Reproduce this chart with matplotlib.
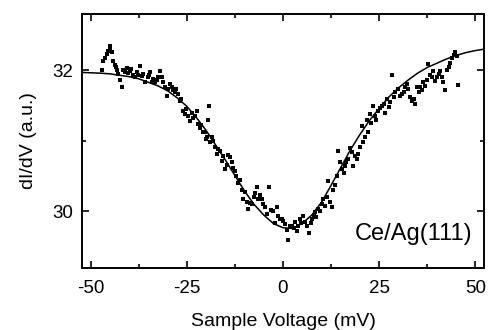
import matplotlib.pyplot as plt
import numpy as np

plt.rcParams['font.family'] = ['Liberation Sans', 'DejaVu Sans']
plt.rcParams['axes.unicode_minus'] = False

# measured dI/dV points (mV, a.u.)
volt = [-47.1, -46.9, -46.4, -45.8, -45.6, -45.1, -44.9, -44.5, -44.3, -43.8, -43.5, -43.2,
        -42.8, -42.4, -41.9, -41.7, -41.2, -40.6, -40.2, -39.8, -39.4, -39.0, -38.5, -38.0,
        -37.6, -37.2, -36.7, -36.3, -35.9, -35.2, -34.9, -34.6, -34.1, -33.7, -33.3, -32.8,
        -32.4, -32.0, -31.5, -31.3, -30.7, -30.2, -29.9, -29.4, -28.9, -28.5, -28.1, -27.7,
        -27.3, -26.8, -26.4, -26.0, -25.5, -25.1, -24.7, -24.2, -23.7, -23.3, -22.9, -22.4,
        -22.0, -21.6, -21.2, -20.8, -20.3, -20.0, -19.8, -19.5, -19.3, -18.9, -18.5, -18.1,
        -17.7, -17.2, -16.8, -16.4, -15.9, -15.5, -15.1, -14.6, -14.2, -13.8, -13.3, -12.9,
        -12.5, -12.1, -11.7, -11.2, -10.7, -10.4, -9.9, -9.4, -9.1, -8.6, -8.1, -7.6,
        -7.2, -6.8, -6.4, -6.0, -5.5, -5.1, -4.7, -4.2, -3.6, -3.2, -2.6, -2.1,
        -1.6, -1.3, -0.8, -0.3, 0.0, 0.5, 1.0, 1.3, 1.8, 2.3, 2.8, 3.2,
        3.6, 4.0, 4.4, 4.8, 5.2, 5.7, 6.2, 6.8, 7.2, 7.6, 8.0, 8.3,
        8.7, 9.1, 9.6, 10.2, 10.4, 10.9, 11.5, 11.7, 12.2, 12.8, 13.0, 13.5,
        14.0, 14.3, 14.8, 15.4, 15.8, 16.1, 16.5, 16.9, 17.4, 18.0, 18.2, 18.7,
        19.3, 19.5, 20.0, 20.6, 20.8, 21.3, 21.9, 22.1, 22.7, 23.0, 23.4, 23.8,
        24.2, 24.7, 25.3, 25.8, 26.2, 26.6, 27.1, 27.5, 27.9, 28.4, 28.8, 29.2,
        29.9, 30.4, 31.0, 31.4, 31.8, 32.2, 32.6, 33.1, 33.6, 34.0, 34.4, 34.9,
        35.3, 35.7, 36.1, 36.5, 37.0, 37.5, 37.8, 38.3, 38.7, 39.1, 39.6, 40.1,
        40.5, 40.9, 41.4, 41.7, 42.2, 42.7, 43.1, 43.5, 44.0, 44.4, 44.8, 45.3, 45.6]
didv = [32.01, 32.13, 32.18, 32.23, 32.27, 32.35, 32.30, 32.26, 32.13, 32.08, 32.05, 32.01,
        31.95, 31.87, 31.76, 32.01, 31.98, 32.04, 31.96, 31.99, 32.02, 31.94, 31.90, 31.97,
        31.93, 32.06, 31.92, 31.95, 31.84, 31.90, 31.93, 31.97, 31.84, 31.88, 31.83, 31.87,
        31.90, 31.99, 31.91, 31.83, 31.77, 31.63, 31.73, 31.80, 31.76, 31.72, 31.70, 31.74,
        31.66, 31.56, 31.60, 31.42, 31.38, 31.45, 31.35, 31.28, 31.40, 31.33, 31.35, 31.42,
        31.24, 31.18, 31.22, 31.13, 31.13, 31.02, 31.06, 31.30, 31.50, 30.98, 31.06, 31.00,
        30.92, 30.81, 30.88, 30.85, 30.71, 30.78, 30.60, 30.66, 30.80, 30.77, 30.70, 30.62,
        30.57, 30.50, 30.41, 30.45, 30.31, 30.17, 30.28, 30.14, 30.03, 30.12, 30.10, 30.20,
        30.26, 30.34, 30.18, 30.24, 30.17, 30.11, 30.07, 29.96, 30.35, 30.02, 30.00, 29.84,
        30.06, 29.93, 29.89, 29.89, 29.86, 29.82, 29.74, 29.60, 29.80, 29.79, 29.76, 29.85,
        29.72, 29.80, 29.89, 29.84, 29.93, 29.85, 29.79, 29.70, 29.83, 29.89, 29.95, 29.99,
        29.92, 30.03, 30.00, 30.10, 30.17, 30.08, 30.21, 30.43, 30.13, 30.06, 30.31, 30.38,
        30.50, 30.85, 30.70, 30.60, 30.55, 30.64, 30.70, 30.74, 30.90, 30.84, 30.64, 30.78,
        30.74, 30.81, 30.92, 31.21, 30.98, 31.05, 31.30, 31.12, 31.38, 31.25, 31.49, 31.35,
        31.30, 31.42, 31.46, 31.49, 31.52, 31.40, 31.59, 31.48, 31.55, 31.93, 31.62, 31.70,
        31.73, 31.64, 31.66, 31.70, 31.76, 31.80, 31.73, 31.62, 31.56, 31.60, 31.52, 31.76,
        31.70, 31.77, 31.72, 31.83, 31.78, 31.87, 32.09, 31.94, 31.90, 31.99, 31.85, 31.91,
        31.95, 31.99, 31.90, 31.83, 31.72, 32.01, 32.05, 32.11, 32.18, 32.22, 32.26, 32.21, 31.79]

# fitted curve
fit_v = [-52.3, -47.5, -45, -42.5, -40, -37.5, -35, -32.5, -30, -27.5, -25, -22.5, -20,
         -17.5, -15, -12.5, -10, -7.5, -5, -2.5, 0, 2.5, 5, 7.5, 10, 12.5, 15, 17.5, 20,
         22.5, 25, 27.5, 30, 32.5, 35, 37.5, 40, 42.5, 45, 47.5, 50, 52.3]
fit_g = [31.97, 31.96, 31.95, 31.93, 31.91, 31.88, 31.83, 31.78, 31.71, 31.61, 31.49, 31.33,
         31.15, 30.94, 30.73, 30.51, 30.29, 30.10, 29.95, 29.83, 29.77, 29.76, 29.83, 29.95,
         30.13, 30.37, 30.62, 30.87, 31.09, 31.29, 31.46, 31.62, 31.75, 31.86, 31.96, 32.04,
         32.10, 32.16, 32.21, 32.25, 32.28, 32.30]

fig = plt.figure(figsize=(4.9, 3.3), dpi=100)
ax = fig.add_axes([0.167, 0.188, 0.821, 0.770])

ax.plot(volt, didv, 's', color='black', markersize=2.8, markeredgewidth=0)
ax.plot(fit_v, fit_g, color='black', linewidth=1.1)

ax.set_xlim(-52.3, 52.3)
ax.set_ylim(29.2, 32.8)
ax.set_xticks([-50, -25, 0, 25, 50])
ax.set_xticks([-37.5, -12.5, 12.5, 37.5], minor=True)
ax.set_yticks([30, 32])
ax.set_yticks([31], minor=True)
ax.tick_params(which='both', direction='in', top=True, right=True, labelsize=13.5, width=1.2)
ax.tick_params(which='major', length=5)
ax.tick_params(which='minor', length=3)
ax.tick_params(axis='x', which='major', pad=9)
ax.tick_params(axis='y', which='major', pad=6)
for s in ax.spines.values():
    s.set_linewidth(1.4)

ax.set_xlabel("Sample Voltage (mV)", fontsize=14, labelpad=11)
ax.set_ylabel("dI/dV (a.u.)", fontsize=14, labelpad=11)
ax.text(0.97, 0.09, "Ce/Ag(111)", transform=ax.transAxes, ha='right', va='bottom', fontsize=17)

fig.savefig("out.png", dpi=100)
